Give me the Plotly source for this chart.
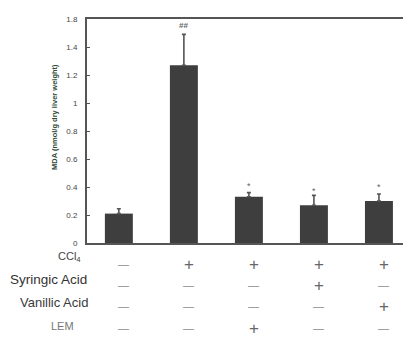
import plotly.graph_objects as go

groups = ["G1", "G2", "G3", "G4", "G5"]
mda = [0.21, 1.27, 0.33, 0.27, 0.30]
mda_err = [0.035, 0.22, 0.03, 0.07, 0.05]
sig_marks = ["", "<b>##</b>", "*", "*", "*"]
sig_y = [0, 1.555, 0.41, 0.37, 0.40]

row_labels = ["CCl<sub>4</sub>", "Syringic Acid", "Vanillic Acid", "LEM"]
row_signs = [
    ["—", "+", "+", "+", "+"],
    ["—", "—", "—", "+", "—"],
    ["—", "—", "—", "—", "+"],
    ["—", "—", "+", "—", "—"],
]
tick_vals = [0, 0.2, 0.4, 0.6, 0.8, 1.0, 1.2, 1.4, 1.6]
tick_text = ["0", "0.2", "0.4", "0.6", "0.8", "1", "1.2", "1.4", "1.8"]

x_idx = list(range(len(groups)))

fig = go.Figure()
fig.add_trace(go.Bar(
    x=x_idx, y=mda, width=0.43,
    marker=dict(color="#3e3e3e", line=dict(width=0)),
    error_y=dict(type="data", array=mda_err, arrayminus=[0] * len(mda_err),
                 color="#555555", thickness=1.6, width=2),
))

ann = []
for i, (m, yv) in enumerate(zip(sig_marks, sig_y)):
    if m:
        ann.append(dict(x=i, y=yv, xref="x", yref="y", text=m, showarrow=False,
                        font=dict(size=9 if m == "*" else 8, color="#666666",
                                  family="Liberation Sans"),
                        xanchor="center", yanchor="middle"))

plot_top, plot_bot = 19, 243
ph = plot_bot - plot_top
row_y_px = [264, 285, 306, 328]
label_y_px = [257, 279, 302, 326]
label_shift = [-4, 2, 3, -11]
label_size = [11, 13.5, 13, 11]
label_color = ["#444444", "#333333", "#3a3a3a", "#777777"]
for r, lab in enumerate(row_labels):
    ann.append(dict(x=0, y=(plot_bot - label_y_px[r]) / ph, xref="paper",
                    yref="paper", text=lab, showarrow=False, xshift=label_shift[r],
                    xanchor="right", yanchor="middle",
                    font=dict(size=label_size[r], color=label_color[r],
                              family="Liberation Sans")))
    for i, s in enumerate(row_signs[r]):
        ann.append(dict(x=i, y=(plot_bot - row_y_px[r]) / ph, xref="x", yref="paper",
                        text=s, showarrow=False, xshift=5,
                        xanchor="center", yanchor="middle",
                        font=dict(size=17 if s == "+" else 11,
                                  color="#666666" if s == "+" else "#8a8a8a",
                                  family="Liberation Sans")))

ann.append(dict(x=0, y=(plot_bot - 117) / ph, xref="paper", yref="paper",
                xshift=-33, xanchor="center", yanchor="middle",
                text="<b>MDA (nmol/g dry liver weight)</b>", textangle=-90,
                showarrow=False, font=dict(size=7.5, color="#2f4a35",
                                           family="Liberation Sans")))

fig.update_layout(
    width=403, height=344,
    margin=dict(l=87, r=0, t=19, b=101),
    paper_bgcolor="white", plot_bgcolor="white",
    showlegend=False,
    annotations=ann,
    xaxis=dict(range=[-0.49, 4.37], showticklabels=False, ticks="",
               showline=True, linecolor="#555555", linewidth=2, mirror=True,
               showgrid=False, zeroline=False, fixedrange=True),
    yaxis=dict(range=[0, 1.6], tickvals=tick_vals, ticktext=tick_text,
               ticks="inside", ticklen=3, tickcolor="#555555",
               showline=True, linecolor="#555555", linewidth=2,
               showgrid=False, zeroline=False,
               tickfont=dict(size=8, color="#444444", family="Liberation Sans"),
               ticklabelstandoff=6),
)

fig.write_html("out.html")
